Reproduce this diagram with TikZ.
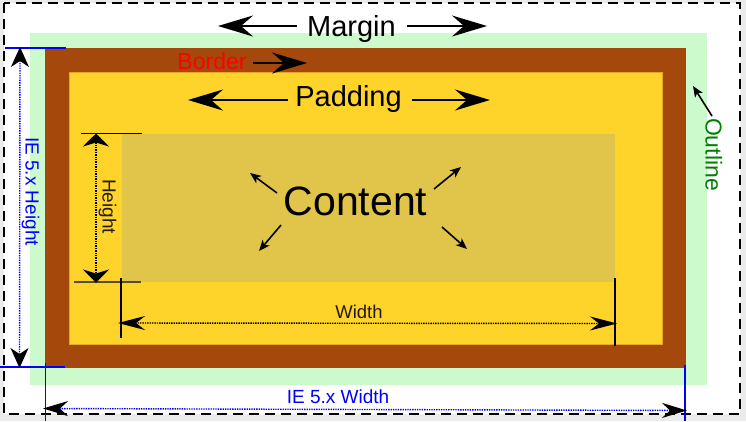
\documentclass[tikz,border=0pt]{standalone}
\usepackage{fontspec}
\setmainfont{Liberation Sans}
\usetikzlibrary{arrows.meta}
\definecolor{bggrey}{RGB}{235,235,235}
\definecolor{outlinegreen}{RGB}{205,250,205}
\definecolor{bordbrown}{RGB}{164,73,11}
\definecolor{padyellow}{RGB}{254,212,42}
\definecolor{padedge}{RGB}{232,165,40}
\definecolor{contyellow}{RGB}{225,196,74}
\definecolor{dimblue}{RGB}{0,0,255}
\definecolor{txtgreen}{RGB}{0,128,0}
\definecolor{txtred}{RGB}{255,0,0}
\definecolor{dimtext}{RGB}{35,25,15}
\definecolor{tickgrey}{RGB}{90,75,40}
\begin{document}
\begin{tikzpicture}[x=1pt,y=-1pt,
  lbl/.style={inner sep=0pt, outer sep=0pt, anchor=base},
  bigarrow/.style={line width=2pt, -{Stealth[length=35pt,width=21pt,inset=12pt]}},
  smallarrow/.style={line width=1.6pt, -{Stealth[length=11pt,width=9pt,inset=3pt]}},
  hdim/.style={line width=1.4pt, densely dotted, {Stealth[length=13pt,width=26pt,inset=4pt]}-{Stealth[length=13pt,width=26pt,inset=4pt]}},
  wdim/.style={line width=1.4pt, densely dotted, {Stealth[length=27pt,width=14pt,inset=9pt]}-{Stealth[length=27pt,width=14pt,inset=9pt]}},
  iehdim/.style={line width=1.4pt, densely dotted, dimblue, {Stealth[length=20pt,width=18pt,inset=6pt,color=black]}-{Stealth[length=20pt,width=18pt,inset=6pt,color=black]}},
  iewdim/.style={line width=1.4pt, densely dotted, dimblue, {Stealth[length=25pt,width=15pt,inset=8pt,color=black]}-{Stealth[length=25pt,width=15pt,inset=8pt,color=black]}},
  tick/.style={line width=1.2pt, black},
  bluetick/.style={line width=1.4pt, dimblue}
]
\useasboundingbox (0,0) rectangle (746,421);
% background and boxes
\fill[bggrey] (0,0) rectangle (746,421);
\fill[white] (4,3) rectangle (740,414);
\fill[outlinegreen] (30,33) rectangle (707,385);
\fill[bordbrown] (45,48) rectangle (686,368);
\filldraw[fill=padyellow, draw=padedge, line width=0.8pt] (69,72) rectangle (662,344);
\fill[contyellow] (122,134) rectangle (615,282);

% dashed outer border
\draw[line width=2pt, dash pattern=on 10pt off 6pt] (4,3) rectangle (740,414);

% Margin
\node[lbl, font=\fontsize{29}{29}\selectfont] (margin) at (351.5,36) {Margin};
\coordinate (mLa) at (297,26); \coordinate (mLb) at (218,26);
\coordinate (mRa) at (407,26); \coordinate (mRb) at (487,26);
\draw[bigarrow] (mLa) -- (mLb);
\draw[bigarrow] (mRa) -- (mRb);

% Border
\node[lbl, text=txtred, font=\fontsize{23}{23}\selectfont] (border) at (212,69) {Border};
\coordinate (bA) at (253,63); \coordinate (bB) at (307,63);
\draw[bigarrow] (bA) -- (bB);

% Padding
\node[lbl, font=\fontsize{29}{29}\selectfont] (padding) at (348.5,106) {Padding};
\coordinate (pLa) at (288,100); \coordinate (pLb) at (188,100);
\coordinate (pRa) at (412,100); \coordinate (pRb) at (490,100);
\draw[bigarrow] (pLa) -- (pLb);
\draw[bigarrow] (pRa) -- (pRb);

% Content
\node[lbl, font=\fontsize{41}{41}\selectfont] (content) at (355.5,215) {Content};
\coordinate (c1a) at (277,193); \coordinate (c1b) at (250,173);
\coordinate (c2a) at (434,189); \coordinate (c2b) at (461,167);
\coordinate (c3a) at (281,225); \coordinate (c3b) at (259,251);
\coordinate (c4a) at (442,227); \coordinate (c4b) at (467,249);
\draw[smallarrow] (c1a) -- (c1b);
\draw[smallarrow] (c2a) -- (c2b);
\draw[smallarrow] (c3a) -- (c3b);
\draw[smallarrow] (c4a) -- (c4b);

% Height dimension
\coordinate (htA) at (81,133.5); \coordinate (htB) at (142,133.5);
\coordinate (hbA) at (74,282); \coordinate (hbB) at (141,282);
\draw[tick] (htA) -- (htB);
\draw[tick, draw=tickgrey] (hbA) -- (hbB);
\coordinate (hT) at (96,133.5); \coordinate (hB) at (96,282.5);
\draw[hdim] (hT) -- (hB);
\node[lbl, rotate=-90, text=dimtext, font=\fontsize{19}{19}\selectfont] (height) at (102.5,206.5) {Height};

% Width dimension
\coordinate (wlT) at (121,278); \coordinate (wlB) at (121,338);
\coordinate (wrT) at (615,278); \coordinate (wrB) at (615,345.5);
\draw[tick] (wlT) -- (wlB);
\draw[tick] (wrT) -- (wrB);
\coordinate (wL) at (118,323); \coordinate (wR) at (617,323.5);
\draw[wdim] (wL) -- (wR);
\node[lbl, text=dimtext, font=\fontsize{18.5}{18.5}\selectfont] (width) at (359,318) {Width};

% IE 5.x Height
\coordinate (ihtA) at (5,48); \coordinate (ihtB) at (66,48);
\coordinate (ihbA) at (0,367); \coordinate (ihbB) at (65,367);
\draw[bluetick] (ihtA) -- (ihtB);
\draw[bluetick] (ihbA) -- (ihbB);
\coordinate (ihT) at (20,47); \coordinate (ihB) at (19.5,368);
\draw[iehdim] (ihT) -- (ihB);
\node[lbl, rotate=-90, text=dimblue, font=\fontsize{19}{19}\selectfont] (ieheight) at (25.5,191.5) {IE 5.x Height};

% IE 5.x Width
\coordinate (iwlT) at (45.5,363); \coordinate (iwlB) at (45.5,421);
\coordinate (iwrT) at (685,365); \coordinate (iwrB) at (685,421);
\draw[bluetick] (iwlT) -- (iwlB);
\draw[bluetick] (iwrT) -- (iwrB);
\coordinate (iwL) at (43,408.5); \coordinate (iwR) at (687,410.5);
\draw[iewdim] (iwL) -- (iwR);
\node[lbl, text=dimblue, font=\fontsize{19}{19}\selectfont] (iewidth) at (338,403) {IE 5.x Width};

% Outline
\node[lbl, rotate=-90, text=txtgreen, font=\fontsize{23}{23}\selectfont] (outline) at (705.5,154.5) {Outline};
\coordinate (oA) at (712,116); \coordinate (oB) at (693,86);
\draw[smallarrow] (oA) -- (oB);
\end{tikzpicture}
\end{document}
